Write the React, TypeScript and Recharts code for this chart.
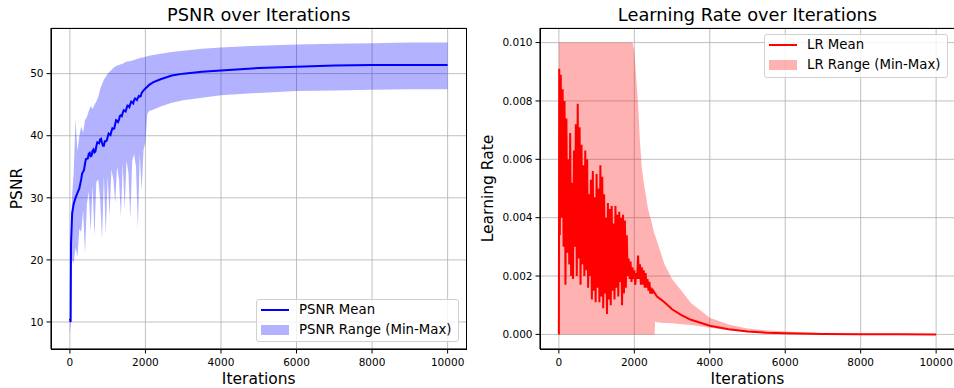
import React from "react";
import { ComposedChart, Area, Line, XAxis, YAxis, CartesianGrid, Legend } from "recharts";

const FONT = "'DejaVu Sans', sans-serif";

const xTicks = [0, 2000, 4000, 6000, 8000, 10000];
const psnrTicks = [10, 20, 30, 40, 50];
const lrTicks = [0, 0.002, 0.004, 0.006, 0.008, 0.01];

// PSNR panel
const psnrMeanIters = [
  0, 20, 30, 60, 100, 150, 200, 250,
  300, 325, 350, 375, 400, 425, 450, 475,
  500, 525, 550, 575, 600, 625, 650, 675,
  700, 725, 750, 775, 800, 825, 850, 875,
  900, 925, 950, 975, 1000, 1025, 1050, 1075,
  1100, 1125, 1150, 1175, 1200, 1225, 1250, 1275,
  1300, 1325, 1350, 1375, 1400, 1425, 1450, 1475,
  1500, 1525, 1550, 1575, 1600, 1625, 1650, 1675,
  1700, 1725, 1750, 1775, 1800, 1825, 1850, 1875,
  1900, 1950, 2000, 2050, 2100, 2200, 2400, 2700,
  3000, 3500, 4000, 5000, 6000, 7000, 8000, 9000, 10000,
];
const psnrMean = [
  10.5, 10.0, 22.6, 27.5, 29.0, 30.0, 30.8, 31.5,
  33.0, 33.95, 34.2, 34.5, 35.5, 36.25, 36.3, 36.35,
  37.1, 37.25, 36.7, 36.8, 37.6, 37.8, 37.3, 37.45,
  38.3, 38.95, 38.9, 38.8, 39.4, 39.5, 38.9, 38.4,
  38.4, 39.1, 39.1, 39.2, 39.8, 40.35, 40.2, 40.1,
  40.7, 41.2, 41.1, 41.15, 41.9, 42.5, 42.4, 42.2,
  42.6, 43.2, 43.3, 43.15, 43.7, 44.1, 44.0, 43.9,
  44.4, 44.85, 44.8, 44.6, 45.1, 45.5, 45.4, 45.2,
  45.7, 46.0, 45.9, 45.75, 46.1, 46.4, 46.3, 46.35,
  46.9, 47.3, 47.6, 47.9, 48.2, 48.6, 49.1, 49.7,
  50.0, 50.3, 50.5, 50.9, 51.1, 51.3, 51.4, 51.4, 51.4,
];

const psnrBandIters = [
  0, 20, 30, 60, 100, 150, 200, 250, 300, 350,
  400, 450, 500, 550, 600, 650, 700, 750, 800, 850,
  900, 950, 1000, 1050, 1100, 1150, 1200, 1250, 1300, 1350,
  1400, 1450, 1500, 1550, 1600, 1650, 1700, 1750, 1800, 1850,
  1900, 1950, 2000, 2050, 2100, 2200, 2400, 2700, 3000, 3500,
  4000, 5000, 6000, 7000, 8000, 9000, 10000,
];
const psnrMax = [
  11.0, 11.5, 25.0, 30.5, 34.0, 42.7, 37.5, 40.0, 41.5, 40.5,
  42.5, 43.0, 44.0, 44.8, 44.3, 45.0, 45.5, 46.2, 47.5, 48.3,
  49.0, 49.5, 50.0, 50.3, 50.6, 50.9, 51.1, 51.3, 51.4, 51.5,
  51.6, 51.8, 51.9, 52.0, 52.0, 52.1, 52.2, 52.3, 52.4, 52.5,
  52.6, 52.6, 52.7, 52.8, 52.9, 53.0, 53.2, 53.5, 53.7, 54.0,
  54.2, 54.5, 54.7, 54.8, 54.9, 55.0, 55.0,
];
const psnrMin = [
  8.0, 9.5, 19.0, 20.0, 19.5, 22.0, 20.5, 25.0, 24.5, 28.0,
  21.0, 29.0, 31.0, 24.5, 32.0, 23.8, 32.5, 33.0, 30.0, 23.3,
  33.5, 24.0, 33.5, 27.0, 34.5, 33.0, 29.2, 35.0, 33.0, 27.0,
  35.5, 28.2, 36.0, 34.0, 26.6, 36.0, 37.0, 35.0, 25.0, 37.0,
  31.3, 37.7, 39.0, 43.5, 44.0, 44.2, 44.7, 45.3, 45.7, 46.1,
  46.5, 46.9, 47.2, 47.3, 47.4, 47.5, 47.5,
];

// learning rate panel
const lrMeanIters = [
  0, 10,
  25, 50, 75, 100, 125, 150, 175, 200,
  225, 250, 275, 300, 325, 350, 375, 400,
  425, 450, 475, 500, 525, 550, 575, 600,
  625, 650, 675, 700, 725, 750, 775, 800,
  825, 850, 875, 900, 925, 950, 975, 1000,
  1025, 1050, 1075, 1100, 1125, 1150, 1175, 1200,
  1225, 1250, 1275, 1300, 1325, 1350, 1375, 1400,
  1425, 1450, 1475, 1500, 1525, 1550, 1575, 1600,
  1625, 1650, 1675, 1700, 1725, 1750, 1775, 1800,
  1825, 1850, 1875, 1900, 1925, 1950, 1975, 2000,
  2025, 2050, 2075, 2100, 2125, 2150, 2175, 2200,
  2225, 2250, 2275, 2300, 2325, 2350, 2375, 2400,
  2425, 2450, 2475, 2500,
  2600, 2700, 2800, 3000, 3250, 3500, 4000, 4500,
  5000, 5500, 6000, 7000, 8000, 9000, 10000,
];
const lrMean = [
  0, 0.0091,
  0.0034, 0.0089, 0.004, 0.0084, 0.003, 0.008, 0.0017, 0.0074,
  0.0028, 0.006, 0.0024, 0.0069, 0.002, 0.0052, 0.0019, 0.0063,
  0.003, 0.0072, 0.002, 0.0079, 0.0026, 0.0071, 0.0017, 0.0065,
  0.0024, 0.0058, 0.002, 0.0063, 0.0022, 0.006, 0.0016, 0.0048,
  0.002, 0.0053, 0.0012, 0.0056, 0.0015, 0.0047, 0.0011, 0.0055,
  0.0016, 0.005, 0.0011, 0.0058, 0.0013, 0.0054, 0.0009, 0.0048,
  0.0014, 0.004, 0.0007, 0.0045, 0.0012, 0.0043, 0.001, 0.0044,
  0.0015, 0.0038, 0.0012, 0.0044, 0.0016, 0.0041, 0.0013, 0.0042,
  0.0018, 0.004, 0.001, 0.0041, 0.0014, 0.0039, 0.0016, 0.0034,
  0.002, 0.0026, 0.0019, 0.0025, 0.0018, 0.0023, 0.0019, 0.0022,
  0.0017, 0.0021, 0.0019, 0.0027, 0.0019, 0.0024, 0.0017, 0.0023,
  0.0017, 0.0022, 0.0016, 0.0021, 0.0016, 0.0019, 0.0015, 0.0018,
  0.0014, 0.0016, 0.0014, 0.0015,
  0.0013, 0.0012, 0.0011, 0.00086, 0.00066, 0.0005, 0.0003, 0.00018,
  0.0001, 0.00006, 0.00004, 0.000015, 0.000006, 0.000002, 0.000001,
];

const lrBandIters = [
  0, 1950, 2000, 2050, 2100, 2150, 2200, 2250, 2300, 2350,
  2400, 2450, 2500, 2540, 2550, 2600, 2700, 2800, 3000, 3250,
  3500, 4000, 4500, 5000, 5500, 6000, 7000, 8000, 9000, 10000,
];
const lrMax = [
  0.01, 0.01, 0.0097, 0.0088, 0.0079, 0.0066, 0.0057, 0.0052, 0.0048, 0.0044,
  0.0041, 0.0039, 0.0036, 0.0034, 0.0034, 0.0032, 0.0028, 0.0024, 0.0019, 0.0015,
  0.00108, 0.00057, 0.00034, 0.0002, 0.00014, 0.0001, 0.00004, 0.000015, 0.000005, 0.000002,
];
const lrMin = [
  0, 0, 0, 0, 0, 0, 0, 0, 0, 0,
  0, 0, 0, 0, 0.00044, 0.00042, 0.0004, 0.00039, 0.00038, 0.00035,
  0.00032, 0.00023, 0.00015, 0.0001, 0.00006, 0.00004, 0.00001, 0.000005, 0.000002, 0.000001,
];

const meanRows = (its: number[], vals: number[]) => its.map((it, i) => ({ it, mean: vals[i] }));
const bandRows = (its: number[], lo: number[], hi: number[]) =>
  its.map((it, i) => ({ it, range: [lo[i], hi[i]] }));

const tickStyle = { fontSize: 10.5, fill: "#000", fontFamily: FONT };

function LegendBox({ line, band, labels }: { line: string; band: string; labels: string[] }) {
  return (
    <div
      style={{
        position: "relative",
        width: "100%",
        height: "100%",
        boxSizing: "border-box",
        border: "1px solid #d0d0d0",
        borderRadius: 3,
        background: "rgba(255,255,255,0.8)",
        fontFamily: FONT,
        fontSize: 13.3,
        color: "#000",
      }}
    >
      <div style={{ position: "absolute", left: 4, top: 9, width: 28, height: 2, background: line }} />
      <div style={{ position: "absolute", left: 42, top: 2, lineHeight: "16px", whiteSpace: "nowrap" }}>{labels[0]}</div>
      <div style={{ position: "absolute", left: 4, top: 25, width: 28, height: 10, background: band }} />
      <div style={{ position: "absolute", left: 42, top: 22, lineHeight: "16px", whiteSpace: "nowrap" }}>{labels[1]}</div>
    </div>
  );
}

type PanelProps = {
  left: number;
  width: number;
  axisWidth: number;
  rightMargin: number;
  title: string;
  yLabel: string;
  yLabelOffset: number;
  mean: { it: number; mean: number }[];
  band: { it: number; range: number[] }[];
  yDomain: [number, number];
  yTicks: number[];
  yFmt: (v: number) => string;
  color: string;
  bandColor: string;
  labels: string[];
  legendPos: { left: number; top: number; width: number; height: number };
};

const TOP = 28;
const XAXIS_H = 39;

function Panel(p: PanelProps) {
  const plotW = p.width - p.axisWidth - p.rightMargin;
  const plotH = 388 - TOP - XAXIS_H;
  return (
    <div style={{ position: "absolute", left: p.left, top: 0, width: p.width, height: 388 }}>
      <div
        style={{
          position: "absolute",
          left: p.axisWidth,
          width: plotW,
          top: 5.6,
          textAlign: "center",
          fontFamily: FONT,
          fontSize: 17.8,
          lineHeight: 1,
          color: "#000",
          whiteSpace: "nowrap",
        }}
      >
        {p.title}
      </div>
      <ComposedChart width={p.width} height={388} margin={{ top: TOP, right: p.rightMargin, bottom: 0, left: 0 }}>
        <CartesianGrid stroke="#b0b0b0" strokeWidth={0.8} />
        <XAxis
          dataKey="it"
          type="number"
          domain={[-500, 10500]}
          ticks={xTicks}
          height={XAXIS_H}
          tickSize={4.5}
          tickMargin={5.3}
          tick={tickStyle}
          tickLine={{ stroke: "#000" }}
          axisLine={{ stroke: "#000" }}
          allowDuplicatedCategory={false}
          label={{ value: "Iterations", position: "insideBottom", offset: 4, fontSize: 15.5, fill: "#000", fontFamily: FONT }}
        />
        <YAxis
          type="number"
          domain={p.yDomain}
          ticks={p.yTicks}
          width={p.axisWidth}
          tickSize={4.5}
          tickMargin={3}
          tick={tickStyle}
          tickFormatter={p.yFmt}
          tickLine={{ stroke: "#000" }}
          axisLine={{ stroke: "#000" }}
          label={{
            value: p.yLabel,
            angle: -90,
            position: "insideLeft",
            offset: p.yLabelOffset,
            fontSize: 15.5,
            fill: "#000",
            fontFamily: FONT,
            style: { textAnchor: "middle" },
          }}
        />
        <Area
          data={p.band}
          dataKey="range"
          stroke="none"
          fill={p.bandColor}
          fillOpacity={1}
          isAnimationActive={false}
          activeDot={false}
        />
        <Line
          data={p.mean}
          dataKey="mean"
          stroke={p.color}
          strokeWidth={2}
          dot={false}
          activeDot={false}
          isAnimationActive={false}
        />
        <Legend
          content={() => <LegendBox line={p.color} band={p.bandColor} labels={p.labels} />}
          layout="horizontal"
          verticalAlign="middle"
          align="center"
          width={p.legendPos.width}
          height={p.legendPos.height}
          wrapperStyle={{ ...p.legendPos }}
        />
      </ComposedChart>
      {/* top and right spines */}
      <div
        style={{
          position: "absolute",
          left: p.axisWidth - 0.5,
          top: TOP - 0.5,
          width: plotW + 1,
          height: plotH + 1,
          boxSizing: "border-box",
          border: "1px solid #000",
          pointerEvents: "none",
        }}
      />
    </div>
  );
}

export default function App() {
  return (
    <div style={{ position: "absolute", left: 0, top: 0, width: 954, height: 388, overflow: "hidden", background: "#fff" }}>
      <Panel
        left={0}
        width={477}
        axisWidth={51}
        rightMargin={10.5}
        title="PSNR over Iterations"
        yLabel="PSNR"
        yLabelOffset={16.3}
        mean={meanRows(psnrMeanIters, psnrMean)}
        band={bandRows(psnrBandIters, psnrMin, psnrMax)}
        yDomain={[5.65, 57.35]}
        yTicks={psnrTicks}
        yFmt={(v) => String(v)}
        color="#0000ff"
        bandColor="rgba(0,0,255,0.3)"
        labels={["PSNR Mean", "PSNR Range (Min-Max)"]}
        legendPos={{ left: 256, top: 299, width: 203, height: 43 }}
      />
      <Panel
        left={477}
        width={478}
        axisWidth={63}
        rightMargin={0}
        title="Learning Rate over Iterations"
        yLabel="Learning Rate"
        yLabelOffset={10.7}
        mean={meanRows(lrMeanIters, lrMean)}
        band={bandRows(lrBandIters, lrMin, lrMax)}
        yDomain={[-0.0005, 0.0105]}
        yTicks={lrTicks}
        yFmt={(v) => v.toFixed(3)}
        color="#ff0000"
        bandColor="rgba(255,0,0,0.3)"
        labels={["LR Mean", "LR Range (Min-Max)"]}
        legendPos={{ left: 287, top: 34, width: 184, height: 44 }}
      />
    </div>
  );
}
